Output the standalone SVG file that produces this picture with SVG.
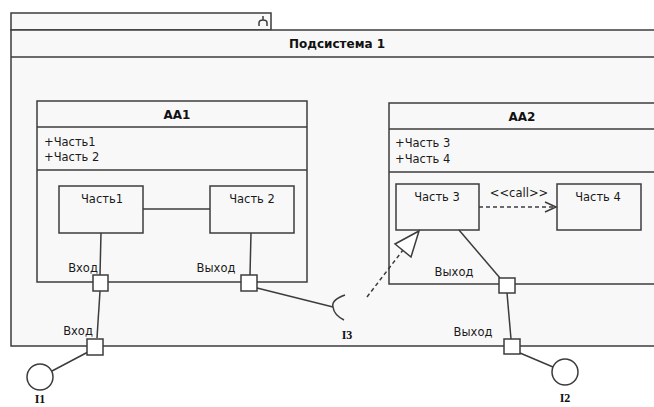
<svg xmlns="http://www.w3.org/2000/svg" width="654" height="407" viewBox="0 0 654 407">
<style>
.ln{stroke:#3c3c3c;stroke-width:1.5;fill:none}
.bx{stroke:#3c3c3c;stroke-width:1.5;fill:#f8f8f8}
.pt{stroke:#3c3c3c;stroke-width:1.5;fill:#ffffff}
.t{font-family:"DejaVu Sans","Noto Sans",sans-serif;font-size:11.5px;fill:#1a1a1a}
.tb{font-family:"DejaVu Sans","Noto Sans",sans-serif;font-size:12px;font-weight:bold;fill:#111}
.ti{font-family:"Liberation Serif","DejaVu Serif",serif;font-size:12px;font-weight:bold;fill:#111}
.d{stroke:#3c3c3c;stroke-width:1.5;fill:none;stroke-dasharray:4 3}
</style>
<rect width="654" height="407" fill="#ffffff"/>
<g id="subsystem">
<rect x="11" y="13" width="260" height="17" class="bx"/>
<path d="M259 26 v-3 q0-3 4-3 q4 0 4 3 v3 M263 20 v-4" class="ln" stroke-width="1.2"/>
<rect x="11" y="30" width="645" height="316" class="bx"/>
<line x1="11" y1="57" x2="656" y2="57" class="ln"/>
<text x="337" y="48" class="tb" text-anchor="middle">Подсистема 1</text>
</g>
<g id="AA1">
<rect x="37" y="101" width="270" height="181" class="bx"/>
<line x1="37" y1="127" x2="307" y2="127" class="ln"/>
<line x1="37" y1="170" x2="307" y2="170" class="ln"/>
<text x="177" y="119" class="tb" text-anchor="middle">AA1</text>
<text x="44" y="146" class="t">+Часть1</text>
<text x="44" y="161" class="t">+Часть 2</text>
</g>
<g id="part1">
<rect x="59" y="186" width="84" height="47" class="bx"/>
<text x="102" y="203" class="t" text-anchor="middle">Часть1</text>
</g>
<g id="part2">
<rect x="210" y="186" width="84" height="47" class="bx"/>
<text x="252" y="203" class="t" text-anchor="middle">Часть 2</text>
</g>
<g id="AA2">
<rect x="389" y="103" width="266" height="181" class="bx"/>
<line x1="389" y1="129" x2="655" y2="129" class="ln"/>
<line x1="389" y1="172" x2="655" y2="172" class="ln"/>
<text x="522" y="121" class="tb" text-anchor="middle">AA2</text>
<text x="395" y="147" class="t">+Часть 3</text>
<text x="395" y="163" class="t">+Часть 4</text>
</g>
<g id="part3">
<rect x="396" y="184" width="83" height="46" class="bx"/>
<text x="437" y="201" class="t" text-anchor="middle">Часть 3</text>
</g>
<g id="part4">
<rect x="557" y="184" width="84" height="46" class="bx"/>
<text x="598" y="201" class="t" text-anchor="middle">Часть 4</text>
</g>
<g id="connectors">
<line x1="143" y1="209" x2="210" y2="209" class="ln"/>
<line x1="101" y1="233" x2="100" y2="275" class="ln"/>
<line x1="251" y1="233" x2="250" y2="275" class="ln"/>
<line x1="100" y1="291" x2="97" y2="338" class="ln"/>
<line x1="88" y1="352" x2="52" y2="371" class="ln"/>
<line x1="257" y1="288" x2="333" y2="307" class="ln"/>
<path d="M345 295 Q331 300 333 307 Q334 315 344 320" class="ln"/>
<line x1="367" y1="297" x2="403" y2="250" class="d"/>
<polygon points="419,231 395,244 411,257" class="pt"/>
<line x1="479" y1="207" x2="553" y2="207" class="d"/>
<path d="M545 202 L556 207 L545 212" class="ln"/>
<text x="519" y="197" class="t" text-anchor="middle">&lt;&lt;call&gt;&gt;</text>
<line x1="459" y1="230" x2="500" y2="278" class="ln"/>
<line x1="507" y1="293" x2="511" y2="339" class="ln"/>
<line x1="520" y1="353" x2="553" y2="367" class="ln"/>
</g>
<g id="port-AA1-in">
<rect x="93" y="275" width="15" height="16" class="pt"/>
<text x="83" y="272" class="t" text-anchor="middle">Вход</text>
</g>
<g id="port-AA1-out">
<rect x="241" y="275" width="16" height="16" class="pt"/>
<text x="216" y="272" class="t" text-anchor="middle">Выход</text>
</g>
<g id="port-AA2-out">
<rect x="499" y="278" width="16" height="15" class="pt"/>
<text x="454" y="276" class="t" text-anchor="middle">Выход</text>
</g>
<g id="port-sys-in">
<rect x="87" y="339" width="16" height="16" class="pt"/>
<text x="78" y="335" class="t" text-anchor="middle">Вход</text>
</g>
<g id="port-sys-out">
<rect x="504" y="339" width="16" height="15" class="pt"/>
<text x="473" y="336" class="t" text-anchor="middle">Выход</text>
</g>
<g id="I1">
<circle cx="40" cy="377" r="13" class="pt"/>
<text x="40" y="403" class="ti" text-anchor="middle">I1</text>
</g>
<g id="I2">
<circle cx="565" cy="372" r="13" class="pt"/>
<text x="565" y="402" class="ti" text-anchor="middle">I2</text>
</g>
<g id="I3">
<text x="347" y="339" class="ti" text-anchor="middle">I3</text>
</g>
</svg>
